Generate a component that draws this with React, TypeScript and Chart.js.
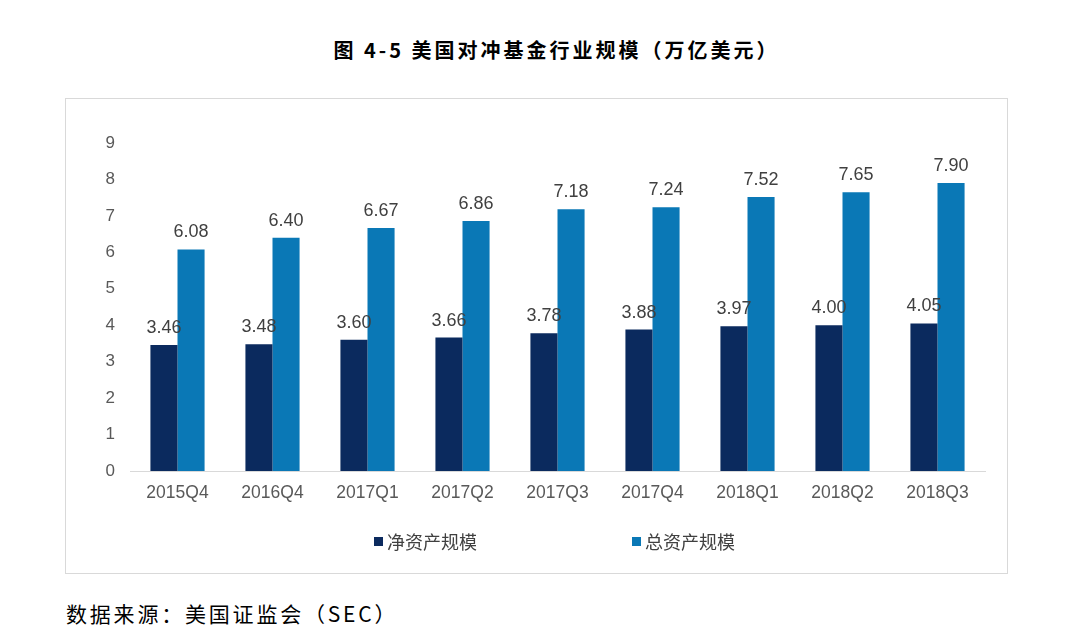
import React, { useEffect, useRef } from "react";
import { Chart, registerables } from "chart.js";

Chart.register(...registerables);

const categories = ["2015Q4", "2016Q4", "2017Q1", "2017Q2", "2017Q3", "2017Q4", "2018Q1", "2018Q2", "2018Q3"];
const netAssets = [3.46, 3.48, 3.6, 3.66, 3.78, 3.88, 3.97, 4.0, 4.05];
const totalAssets = [6.08, 6.4, 6.67, 6.86, 7.18, 7.24, 7.52, 7.65, 7.9];
const seriesNames = ["净资产规模", "总资产规模"];
const seriesColors = ["#0B2A5E", "#0A78B6"];
const yTicks = [0, 1, 2, 3, 4, 5, 6, 7, 8, 9];

const FONT = "'Liberation Sans', Arial, sans-serif";
const CJK = "'Noto Sans CJK SC', 'Noto Sans', sans-serif";

const valueLabels = {
  id: "valueLabels",
  afterDatasetsDraw(chart: any) {
    const ctx = chart.ctx;
    ctx.save();
    ctx.font = `18px ${FONT}`;
    ctx.fillStyle = "#404040";
    ctx.textAlign = "center";
    ctx.textBaseline = "alphabetic";
    chart.data.datasets.forEach((ds: any, i: number) => {
      const meta = chart.getDatasetMeta(i);
      meta.data.forEach((bar: any, j: number) => {
        ctx.fillText(Number(ds.data[j]).toFixed(2), bar.x, bar.y - 12);
      });
    });
    ctx.restore();
  },
};

export default function App() {
  const ref = useRef<HTMLCanvasElement | null>(null);

  useEffect(() => {
    if (!ref.current) return;
    const chart = new Chart(ref.current, {
      type: "bar",
      data: {
        labels: categories,
        datasets: [
          { label: seriesNames[0], data: netAssets, backgroundColor: seriesColors[0] },
          { label: seriesNames[1], data: totalAssets, backgroundColor: seriesColors[1] },
        ],
      },
      options: {
        animation: false,
        responsive: false,
        maintainAspectRatio: false,
        layout: { padding: { top: 44, right: 22, left: 0, bottom: 0 } },
        datasets: { bar: { categoryPercentage: 0.57, barPercentage: 1 } } as any,
        plugins: { legend: { display: false }, tooltip: { enabled: false } },
        scales: {
          x: {
            grid: { display: false, drawTicks: false },
            border: { display: true, color: "#D9D9D9", width: 1 },
            ticks: { color: "#595959", font: { family: FONT, size: 17.5 }, padding: 12, maxRotation: 0 },
            afterFit: (s: any) => { s.height = 102; },
          },
          y: {
            min: 0,
            max: 9,
            grid: { display: false, drawTicks: false },
            border: { display: false },
            afterBuildTicks: (s: any) => { s.ticks = yTicks.map((v) => ({ value: v })); },
            ticks: { color: "#595959", font: { family: FONT, size: 17 }, padding: 15 },
            afterFit: (s: any) => { s.width = 64; },
          },
        },
      },
      plugins: [valueLabels],
    });
    return () => chart.destroy();
  }, []);

  return (
    <div style={{ position: "fixed", left: 0, top: 0, width: 1080, height: 640, background: "#fff" }}>
      <div
        style={{
          position: "absolute", left: 0, top: 36, width: 1113, textAlign: "center",
          fontFamily: CJK, fontWeight: 700, fontSize: 20, color: "#000", letterSpacing: 3, lineHeight: "28px",
        }}
      >
        图 4-5 美国对冲基金行业规模（万亿美元）
      </div>
      <div
        style={{
          position: "absolute", left: 65, top: 98, width: 941, height: 474,
          border: "1px solid #D9D9D9", boxSizing: "content-box",
        }}
      >
        <canvas ref={ref} width={941} height={474} style={{ display: "block", width: 941, height: 474 }} />
        <div style={{ position: "absolute", left: 308, top: 430, fontFamily: CJK, fontSize: 18, color: "#404040", lineHeight: "24px", display: "flex" }}>
          <span style={{ display: "flex", alignItems: "center" }}>
            <span style={{ width: 9, height: 9, background: seriesColors[0], marginRight: 4 }} />
            {seriesNames[0]}
          </span>
          <span style={{ display: "flex", alignItems: "center", marginLeft: 155 }}>
            <span style={{ width: 9, height: 9, background: seriesColors[1], marginRight: 4 }} />
            {seriesNames[1]}
          </span>
        </div>
      </div>
      <div
        style={{
          position: "absolute", left: 66, top: 598, fontFamily: CJK, fontSize: 21, color: "#000", lineHeight: "30px", letterSpacing: 2.8,
        }}
      >
        数据来源：美国证监会（SEC）
      </div>
    </div>
  );
}
